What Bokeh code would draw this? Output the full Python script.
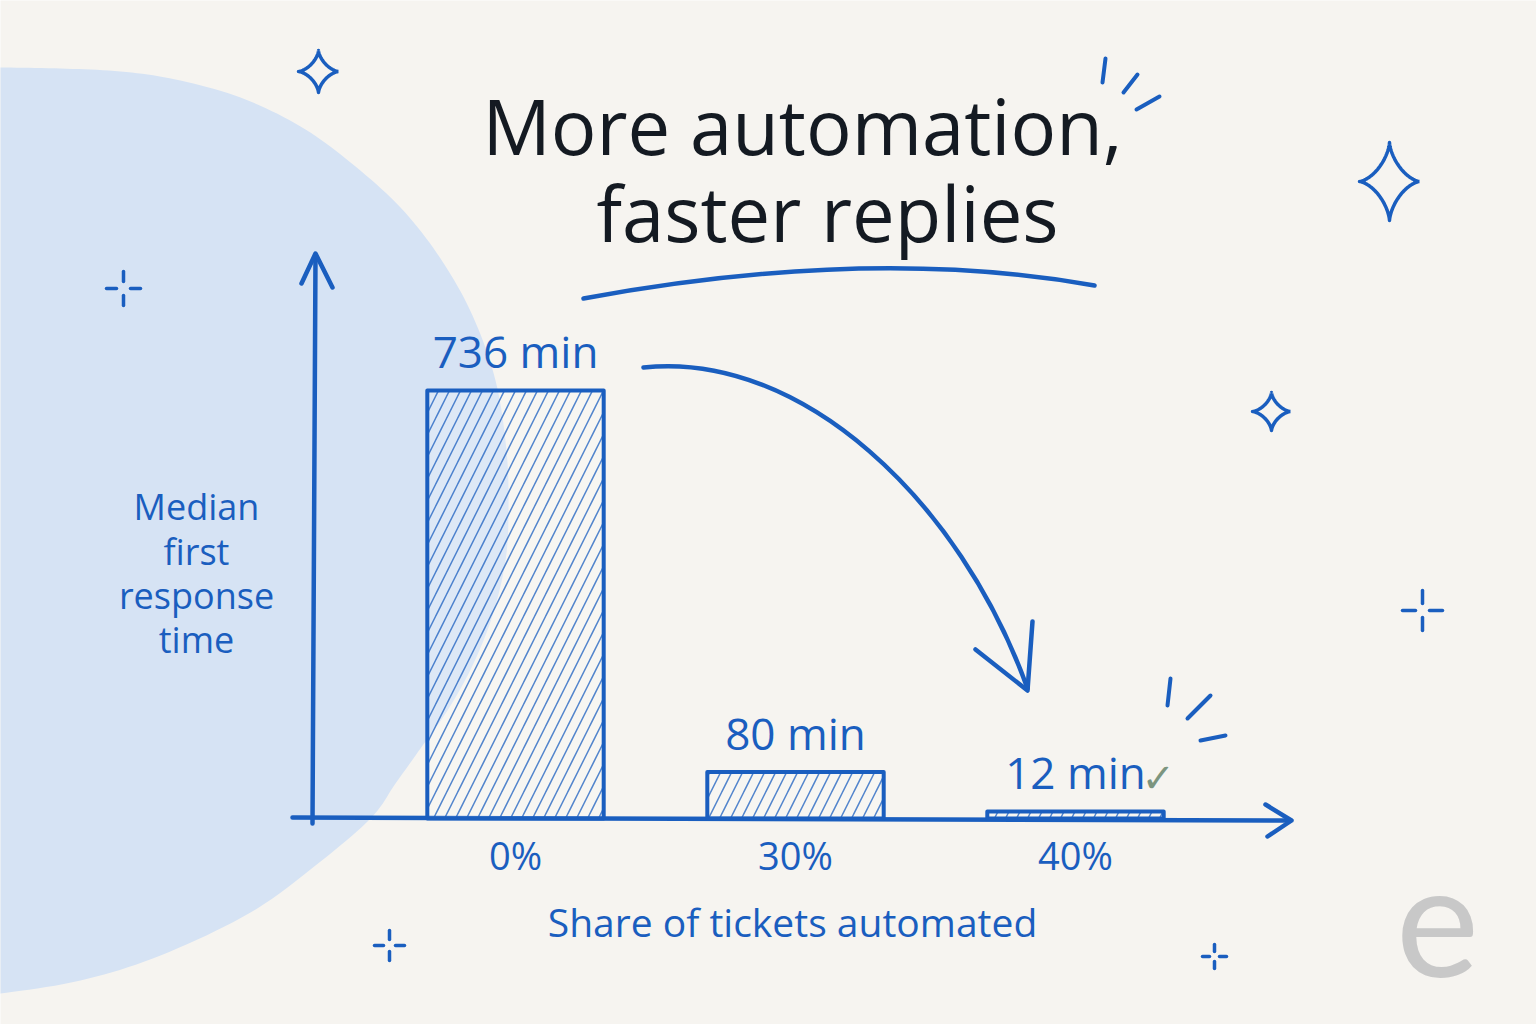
import numpy as np
from bokeh.plotting import figure
from bokeh.models import Range1d, ColumnDataSource
from bokeh.core.properties import value
from bokeh.embed import file_html
from bokeh.resources import INLINE

# ---------------- data ----------------
categories = ["0%", "30%", "40%"]
median_minutes = [736, 80, 12]
value_labels = ["736 min", "80 min", "12 min"]
title_lines = ["More automation,", "faster replies"]
y_title_lines = ["Median", "first", "response", "time"]
x_title = "Share of tickets automated"

# ---------------- style ----------------
W, H = 1536, 1024
BG = "#F6F4F0"
BLUE = "#1A5EBF"
INK = "#141A22"
BLOB = "#D6E3F4"
CHECK = "#7C957F"
FONT = "Open Sans"


def lift(size):
    # the renderer draws an "alphabetic" baseline ~0.44 em low; pull it back up
    return -0.44 * size


# data scale: categories 280 px apart, baseline 206 px above the bottom
x0_px, step_px = 515, 280
base_px, px_per_min = 206, 0.5815
x_range = Range1d(-x0_px / step_px, (W - x0_px) / step_px)
y_range = Range1d(-base_px / px_per_min, (H - base_px) / px_per_min)

p = figure(width=W, height=H, x_range=x_range, y_range=y_range,
           output_backend="svg", toolbar_location=None,
           x_axis_location=None, y_axis_location=None, min_border=0)
p.grid.visible = False
p.outline_line_color = None
p.background_fill_color = BG
p.border_fill_color = BG
# page-pixel ranges for the decorations (y grows downward)
p.extra_x_ranges = {"px": Range1d(0, W)}
p.extra_y_ranges = {"px": Range1d(H, 0)}
PX = dict(x_range_name="px", y_range_name="px")


def smooth(xs, ys, n=10):
    P = np.column_stack([xs, ys]).astype(float)
    P = np.vstack([P[0], P, P[-1]])
    out = []
    for i in range(1, len(P) - 2):
        p0, p1, p2, p3 = P[i - 1], P[i], P[i + 1], P[i + 2]
        for t in np.linspace(0, 1, n, endpoint=False):
            t2, t3 = t * t, t * t * t
            out.append(0.5 * ((2 * p1) + (-p0 + p2) * t + (2 * p0 - 5 * p1 + 4 * p2 - p3) * t2
                              + (-p0 + 3 * p1 - 3 * p2 + p3) * t3))
    out.append(P[-2])
    arr = np.array(out)
    return list(arr[:, 0]), list(arr[:, 1])


# ---------------- background blob ----------------
blob_x = [-30, 0, 60, 120, 175, 240, 300, 350, 400, 440, 472, 495, 506, 508, 505,
          492, 472, 447, 420, 395, 370, 315, 250, 160, 80, 0, -30]
blob_y = [67, 67, 68, 71, 79, 97, 126, 162, 207, 258, 315, 380, 450, 510, 560,
          615, 665, 710, 748, 783, 818, 865, 912, 955, 980, 993, 995]
bx, by = smooth(blob_x, blob_y)
p.patch(bx, by, fill_color=BLOB, line_color=None, **PX)

# ---------------- sparkles ----------------
def sparkle(cx, cy, rx, ry, k=3.0):
    t = np.linspace(0, 2 * np.pi, 161)
    c, s = np.cos(t), np.sin(t)
    return list(cx + rx * np.sign(c) * np.abs(c) ** k), list(cy + ry * np.sign(s) * np.abs(s) ** k)

stars = [(318, 71, 20, 21), (1389, 181, 30, 39), (1271, 411, 19, 19)]
sx, sy = [], []
for st in stars:
    a, b = sparkle(*st)
    sx.append(a); sy.append(b)
p.multi_line(sx, sy, line_color=BLUE, line_width=3.5, line_join="round", **PX)

def plus(cx, cy, g, l):
    return ([[cx, cx], [cx, cx], [cx - g - l, cx - g], [cx + g, cx + g + l]],
            [[cy - g - l, cy - g], [cy + g, cy + g + l], [cy, cy], [cy, cy]])

pxs, pys = [], []
for c in [(123, 288, 7, 10), (1422, 610, 7, 13), (389, 945, 6, 9), (1214, 956, 5, 7)]:
    a, b = plus(*c)
    pxs += a; pys += b
p.multi_line(pxs, pys, line_color=BLUE, line_width=3.5, line_cap="round", **PX)

# emphasis strokes
ex = [[1105, 1102], [1137, 1123], [1159, 1136], [1170, 1167], [1210, 1187], [1200, 1225]]
ey = [[58, 82], [74, 92], [96, 109], [678, 705], [695, 718], [740, 735]]
p.multi_line(ex, ey, line_color=BLUE, line_width=4, line_cap="round", **PX)

# ---------------- title ----------------
p.text(x=[802, 827], y=[158, 245], text=title_lines, text_font=value(FONT),
       text_font_size="76px", text_color=INK, text_align="center",
       text_baseline="alphabetic", y_offset=lift(76), **PX)
p.quadratic(x0=[583], y0=[298], x1=[1094], y1=[285], cx=[870], cy=[245],
            line_color=BLUE, line_width=4.5, line_cap="round", **PX)

# ---------------- axes (hand-drawn arrows) ----------------
p.multi_line([[312, 315], [301, 315, 332], [292, 1290], [1265, 1291, 1267]],
             [[823, 255], [283, 253, 287], [817, 820], [804, 820, 836]],
             line_color=BLUE, line_width=4.5, line_cap="round", line_join="round", **PX)

# ---------------- bars ----------------
xs = list(range(len(categories)))
src = ColumnDataSource(dict(x=xs, top=median_minutes, cat=categories, lab=value_labels,
                            tick_y=[871] * len(xs)))
p.vbar(x="x", top="top", bottom=0, width=0.63, source=src,
       fill_color="white", fill_alpha=0.18,
       line_color=BLUE, line_width=4, line_join="round",
       hatch_pattern="/", hatch_scale=22, hatch_weight=1.5,
       hatch_color=BLUE, hatch_alpha=0.75)

# value labels above the bars
p.text(x="x", y="top", text="lab", source=src, text_font=value(FONT),
       text_font_size="44px", text_color=BLUE, text_align="center",
       text_baseline="alphabetic", y_offset=-20 + lift(44))
# check mark next to the last value
p.text(x=[xs[-1]], y=[median_minutes[-1]], text=["\u2713"], text_font=value("DejaVu Sans"),
       text_font_size="40px", text_color=CHECK, text_align="left",
       text_baseline="alphabetic", x_offset=66, y_offset=-20 + lift(30))

# category tick labels (x on the data scale, y on the page)
p.text(x="x", y="tick_y", text="cat", source=src,
       text_font=value(FONT), text_font_size="38px", text_color=BLUE,
       text_align="center", text_baseline="alphabetic", y_offset=lift(38),
       y_range_name="px")

# axis titles
p.text(x=[792], y=[938], text=[x_title], text_font=value(FONT), text_font_size="39px",
       text_color=BLUE, text_align="center", text_baseline="alphabetic",
       y_offset=lift(39), **PX)
p.text(x=[196] * 4, y=[522, 567, 611, 655], text=y_title_lines, text_font=value(FONT),
       text_font_size="36px", text_color=BLUE, text_align="center",
       text_baseline="alphabetic", y_offset=lift(36), **PX)

# curved arrow
p.bezier(x0=[643], y0=[367], x1=[1027], y1=[688], cx0=[800], cy0=[350], cx1=[960], cy1=[500],
         line_color=BLUE, line_width=4.5, line_cap="round", **PX)
p.multi_line([[975, 1027, 1032]], [[649, 690, 621]], line_color=BLUE, line_width=4.5,
             line_cap="round", line_join="round", **PX)

# logo mark
p.text(x=[1437], y=[990], text=["e"], text_font=value("Lato"), text_font_size="158px",
       text_color="#C8C8C8", text_align="center", text_baseline="alphabetic",
       y_offset=lift(158), **PX)

open("out.html", "w").write(file_html(p, INLINE))
